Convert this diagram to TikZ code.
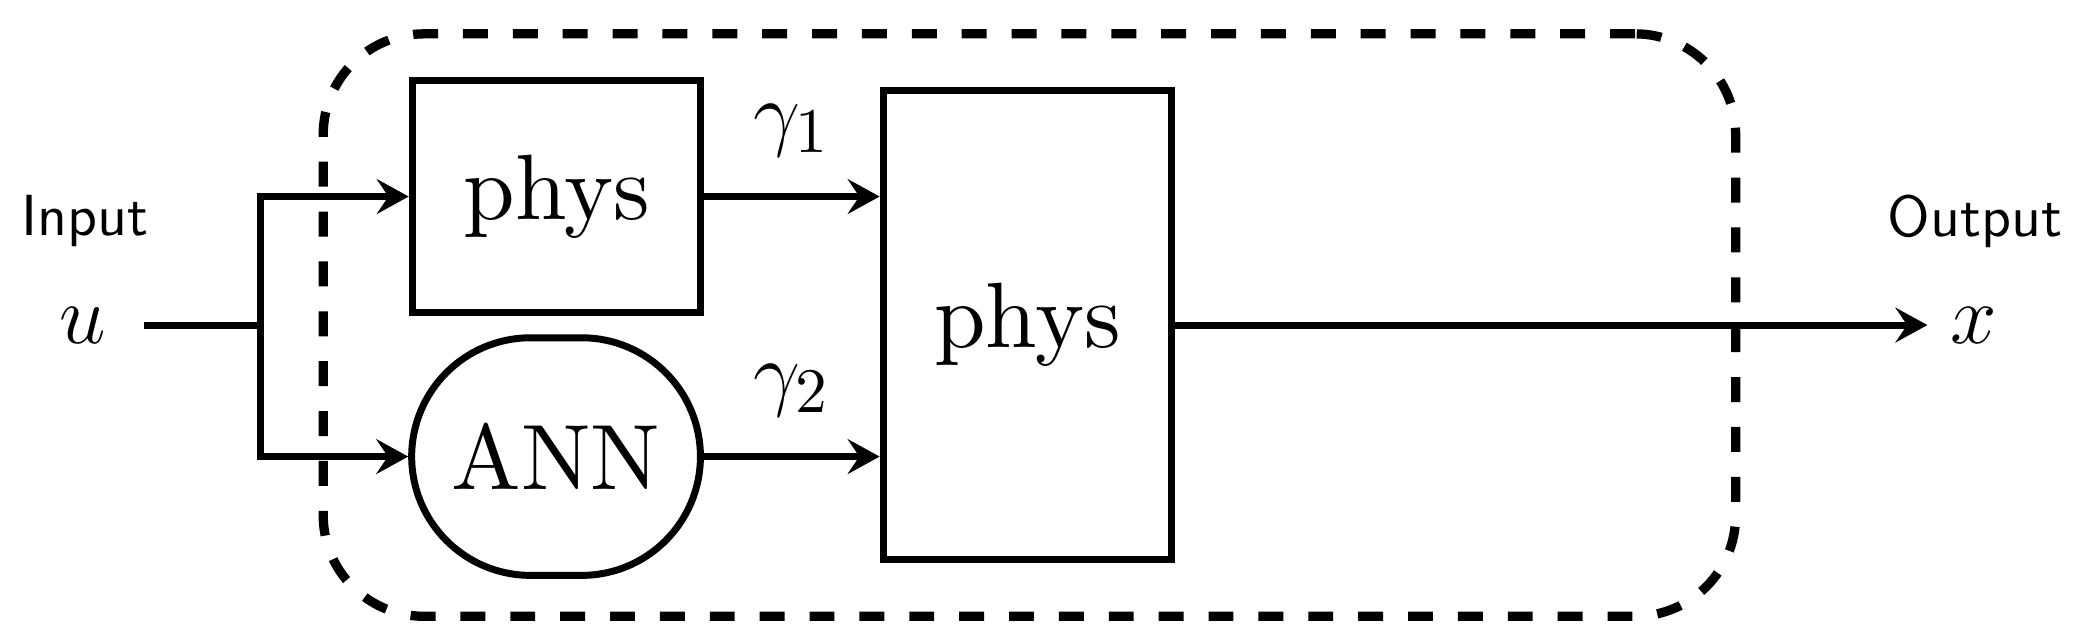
\documentclass[tikz,border=0pt]{standalone}
\usepackage{amsmath}
\usepackage{fontspec}
\newfontfamily\blockfont{lmroman10-regular}[Extension=.otf]
\usepackage{tikz}
\usetikzlibrary{positioning,arrows.meta}

\begin{document}
\begin{tikzpicture}[
    >={Stealth[length=5.5pt,width=6pt,inset=2pt]},
    line width=1.2pt,
    block/.style={draw, minimum width=1.75cm, font=\blockfont\fontsize{16}{19}\selectfont, inner sep=0pt},
    netbox/.style={block, rounded corners=0.72cm, minimum height=1.44cm},
    iolabel/.style={font=\sffamily},
    signal/.style={font=\fontsize{15.5}{18}\selectfont},
    sysbox/.style={draw, line width=1.6pt, dash pattern=on 4.3pt off 4.3pt, rounded corners=0.61cm, minimum width=8.56cm, minimum height=3.53cm}
]
\useasboundingbox (0,0) rectangle (12.618,3.897);
\node[sysbox] (sys) at (6.239,1.927) {};
\node[block, minimum height=1.41cm] (phys1) at (3.373,2.706) {phys};
\node[netbox] (ann) at (3.37,1.130) {ANN};
\node[block, minimum height=2.84cm] (phys2) at (6.227,1.927) {phys};
\node[signal, inner xsep=6pt] (u) at (0.50,1.927) {$u$};
\node[signal] (x) at (11.96,1.927) {$x$};
\node[iolabel] (in) at (0.515,2.555) {Input};
\node[iolabel] (out) at (11.97,2.555) {Output};
\coordinate (split) at (1.58,1.927);
\draw (u) -- (split);
\draw[->] (split) |- (phys1);
\draw[->] (split) |- (ann);
\draw[->] (phys1) -- (phys1 -| phys2.west) node[signal, midway, above=3pt] (g1) {$\gamma_1$};
\draw[->] (ann) -- (ann -| phys2.west) node[signal, midway, above=3pt] (g2) {$\gamma_2$};
\draw[->] (phys2) -- (x);
\end{tikzpicture}
\end{document}
